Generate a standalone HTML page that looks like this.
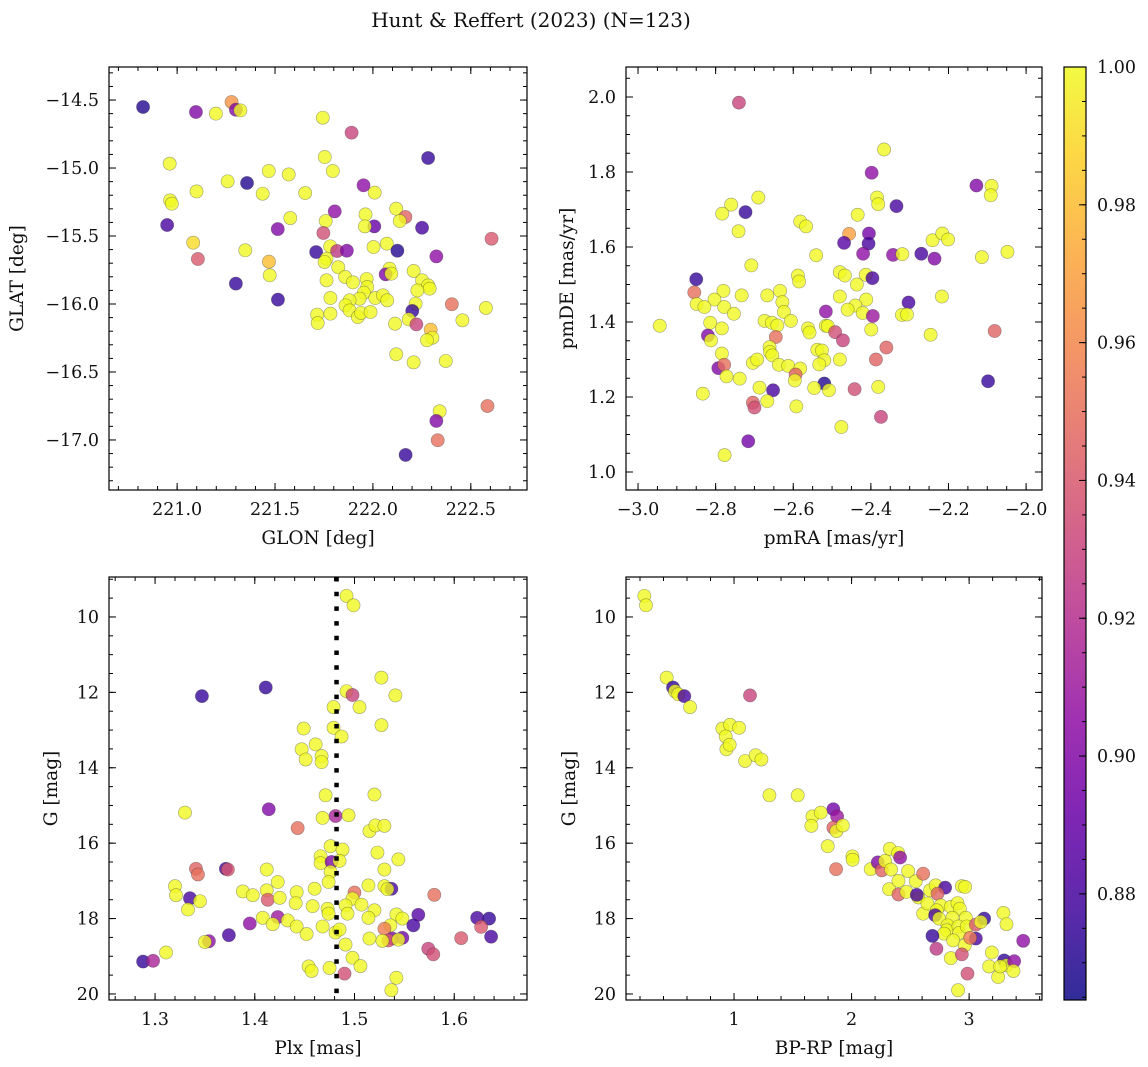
<!DOCTYPE html>
<html><head><meta charset="utf-8">
<style>
html,body{margin:0;padding:0;background:#fff;}
svg{display:block;font-family:"DejaVu Serif","Liberation Serif",serif;}
</style></head>
<body>
<svg id="fig" width="1148" height="1067" viewBox="0 0 1148 1067" xmlns="http://www.w3.org/2000/svg">
<text x="531" y="27" font-size="20" text-anchor="middle" fill="#111">Hunt &amp; Reffert (2023) (N=123)</text>
<defs>
<linearGradient id="plasma" x1="0" y1="1" x2="0" y2="0">
<stop offset="0" stop-color="#0d0887"/><stop offset="0.1" stop-color="#41049d"/><stop offset="0.2" stop-color="#6a00a8"/><stop offset="0.3" stop-color="#8f0da4"/><stop offset="0.4" stop-color="#b12a90"/><stop offset="0.5" stop-color="#cc4778"/><stop offset="0.6" stop-color="#e16462"/><stop offset="0.7" stop-color="#f2844b"/><stop offset="0.8" stop-color="#fca636"/><stop offset="0.9" stop-color="#fcce25"/><stop offset="1" stop-color="#f0f921"/>
</linearGradient>
</defs>
</svg>
<script>
// ---- Panel 1: GLON / GLAT ----
const p1Lon=[220.826,221.096,221.198,221.278,221.300,221.323,221.744,221.891,222.282,220.962,221.468,221.570,221.754,221.795,221.258,221.357,221.099,221.437,221.654,221.952,222.009,220.964,220.973,220.949,221.578,221.805,221.962,222.119,222.166,222.137,221.759,221.514,222.007,221.959,222.251,221.747,222.606,221.082,221.106,221.348,221.710,221.782,221.817,221.867,222.003,222.071,222.125,222.324,221.469,221.763,221.753,221.473,221.823,221.858,221.898,221.763,222.085,222.065,222.094,222.208,222.251,222.282,222.290,222.227,221.300,221.515,221.968,221.971,221.954,221.932,221.881,222.012,222.051,222.073,221.783,221.783,221.860,221.881,221.923,221.940,221.988,221.715,221.718,222.218,222.201,222.183,222.222,222.113,222.403,222.577,222.457,222.295,222.304,222.276,222.119,222.208,222.372,222.341,222.324,222.585,222.331,222.167];
const p1Lat=[-14.551,-14.588,-14.600,-14.515,-14.571,-14.576,-14.630,-14.740,-14.926,-14.968,-15.022,-15.047,-14.919,-15.022,-15.098,-15.110,-15.172,-15.189,-15.184,-15.127,-15.181,-15.238,-15.262,-15.419,-15.368,-15.319,-15.341,-15.299,-15.360,-15.390,-15.390,-15.449,-15.429,-15.429,-15.439,-15.478,-15.520,-15.549,-15.669,-15.605,-15.618,-15.576,-15.610,-15.608,-15.581,-15.556,-15.608,-15.650,-15.689,-15.667,-15.691,-15.789,-15.730,-15.801,-15.841,-15.826,-15.740,-15.782,-15.777,-15.757,-15.826,-15.863,-15.887,-15.900,-15.850,-15.968,-15.816,-15.875,-15.917,-15.961,-15.973,-15.956,-15.936,-15.973,-15.956,-16.071,-16.010,-16.047,-16.096,-16.066,-16.059,-16.078,-16.140,-15.998,-16.051,-16.113,-16.150,-16.145,-16.002,-16.029,-16.120,-16.189,-16.248,-16.267,-16.370,-16.429,-16.419,-16.789,-16.860,-16.750,-17.002,-17.110];
const p1Prob=[.87,.90,1,.965,.90,1,1,.93,.875,1,1,1,1,1,1,.87,1,1,1,.905,1,1,1,.88,1,.905,1,1,.945,1,1,.90,.89,1,.88,.935,.94,.99,.94,1,.875,1,.925,.90,1,1,.87,.905,.98,1,1,1,1,1,1,1,1,.90,1,1,1,1,1,1,.875,.875,1,1,1,1,1,1,1,1,1,1,1,1,1,1,1,1,1,1,.875,1,.93,1,.95,1,1,.98,1,1,1,1,1,1,.90,.95,.95,.875];
// ---- Panel 2: pmRA / pmDE ----
const p2Pmra=[-2.740,-2.366,-2.398,-2.128,-2.089,-2.091,-2.690,-2.760,-2.783,-2.723,-2.741,-2.384,-2.381,-2.334,-2.434,-2.582,-2.567,-2.456,-2.405,-2.469,-2.406,-2.420,-2.343,-2.319,-2.270,-2.236,-2.241,-2.216,-2.201,-2.114,-2.048,-2.541,-2.708,-2.588,-2.585,-2.480,-2.467,-2.413,-2.396,-2.436,-2.850,-2.855,-2.780,-2.733,-2.803,-2.849,-2.829,-2.778,-2.753,-2.667,-2.634,-2.628,-2.624,-2.480,-2.412,-2.303,-2.217,-2.440,-2.460,-2.421,-2.516,-2.395,-2.320,-2.307,-2.944,-2.814,-2.674,-2.655,-2.641,-2.606,-2.562,-2.558,-2.516,-2.511,-2.492,-2.472,-2.399,-2.246,-2.081,-2.820,-2.812,-2.784,-2.645,-2.784,-2.661,-2.660,-2.654,-2.538,-2.526,-2.520,-2.533,-2.480,-2.387,-2.360,-2.704,-2.693,-2.637,-2.613,-2.582,-2.793,-2.778,-2.772,-2.738,-2.594,-2.596,-2.520,-2.652,-2.687,-2.546,-2.508,-2.442,-2.381,-2.098,-2.833,-2.704,-2.700,-2.667,-2.592,-2.374,-2.476,-2.716,-2.777];
const p2Pmde=[1.985,1.860,1.798,1.764,1.763,1.738,1.732,1.713,1.689,1.693,1.642,1.732,1.714,1.709,1.686,1.668,1.655,1.635,1.636,1.611,1.609,1.582,1.579,1.581,1.582,1.569,1.618,1.636,1.620,1.573,1.587,1.578,1.551,1.524,1.508,1.533,1.524,1.526,1.517,1.500,1.514,1.479,1.483,1.471,1.460,1.448,1.440,1.440,1.422,1.471,1.483,1.453,1.427,1.468,1.460,1.452,1.468,1.444,1.433,1.424,1.428,1.416,1.419,1.420,1.390,1.398,1.403,1.398,1.391,1.403,1.383,1.372,1.390,1.389,1.373,1.351,1.380,1.366,1.376,1.364,1.351,1.383,1.360,1.316,1.333,1.320,1.311,1.326,1.324,1.298,1.287,1.300,1.300,1.332,1.291,1.300,1.286,1.283,1.276,1.277,1.286,1.255,1.249,1.260,1.244,1.236,1.218,1.225,1.224,1.218,1.221,1.227,1.242,1.209,1.185,1.172,1.189,1.175,1.147,1.120,1.082,1.045];
const p2Prob=[.93,1,.905,.90,1,1,1,1,1,.875,1,1,1,.88,1,1,1,.97,.895,.885,.88,.905,.905,1,.88,.90,1,1,1,1,1,1,1,1,1,1,1,1,.88,1,.875,.95,1,1,1,1,1,1,1,1,1,1,1,1,1,.88,1,1,1,1,.905,.91,1,1,1,1,1,1,1,1,1,1,1,1,.935,.93,1,1,.945,.90,1,1,.95,1,1,1,1,1,1,1,1,1,.945,.945,1,1,1,1,1,.90,.95,1,1,.945,1,.87,.88,1,1,1,.935,1,.875,1,.945,.935,1,1,.93,1,.895,1];
// ---- Panel 3: Plx / G ----
const p3Plx=[1.492,1.499,1.527,1.541,1.492,1.498,1.505,1.347,1.411,1.479,1.479,1.487,1.527,1.449,1.461,1.447,1.451,1.467,1.467,1.471,1.520,1.330,1.414,1.481,1.494,1.468,1.443,1.515,1.521,1.530,1.476,1.488,1.466,1.466,1.477,1.485,1.476,1.474,1.523,1.544,1.530,1.341,1.343,1.371,1.373,1.412,1.320,1.321,1.335,1.345,1.333,1.388,1.398,1.412,1.413,1.423,1.425,1.442,1.441,1.460,1.458,1.473,1.474,1.514,1.530,1.537,1.533,1.500,1.498,1.507,1.491,1.493,1.520,1.514,1.580,1.542,1.548,1.564,1.559,1.623,1.635,1.627,1.637,1.607,1.574,1.579,1.408,1.395,1.423,1.418,1.433,1.442,1.452,1.468,1.481,1.485,1.536,1.530,1.538,1.534,1.528,1.515,1.548,1.544,1.491,1.374,1.354,1.350,1.311,1.288,1.298,1.498,1.506,1.454,1.457,1.475,1.490,1.542,1.537];
const p3G=[9.44,9.69,11.61,12.08,11.97,12.07,12.39,12.10,11.87,12.39,12.94,13.17,12.87,12.96,13.38,13.51,13.78,13.69,13.85,14.73,14.71,15.19,15.10,15.28,15.26,15.33,15.60,15.68,15.53,15.54,16.08,16.17,16.35,16.53,16.50,16.47,16.76,17.03,16.25,16.43,16.70,16.68,16.83,16.68,16.70,16.70,17.14,17.38,17.46,17.54,17.76,17.28,17.38,17.25,17.50,17.03,17.45,17.30,17.59,17.21,17.67,17.74,17.87,17.12,17.14,17.21,17.22,17.31,17.47,17.63,17.65,17.87,17.78,17.98,17.37,17.89,18.00,17.90,18.18,17.98,18.00,18.22,18.48,18.52,18.80,18.95,17.98,18.13,17.96,18.15,18.05,18.21,18.41,18.21,18.37,18.29,18.18,18.27,18.53,18.58,18.59,18.53,18.51,18.56,18.69,18.44,18.60,18.62,18.90,19.14,19.12,19.04,19.26,19.27,19.39,19.31,19.46,19.57,19.90];
const p3Prob=[1,1,1,1,1,.93,1,.875,.875,1,1,1,1,1,1,1,1,1,1,1,1,1,.90,.915,1,1,.95,1,1,1,1,1,1,1,.90,1,1,1,1,1,1,.945,.95,.88,.94,1,1,1,.88,1,1,1,1,1,.94,1,1,1,1,1,1,1,1,1,1,.88,1,.95,1,1,1,1,1,1,.95,1,1,.885,.88,.88,.875,.94,.88,.94,.93,.935,1,.905,.91,1,1,1,1,1,1,1,1,.955,.90,.94,1,1,.895,1,1,.88,.905,1,1,.875,.915,1,1,1,1,1,.935,1,1];
const plxRef=[1.482];
// ---- Panel 4: BP-RP / G ----
const p4Bprp=[0.237,0.251,0.427,0.481,0.498,0.526,0.577,0.626,1.136,0.901,0.966,1.043,0.929,0.935,0.963,1.094,1.184,1.233,1.301,1.542,1.845,1.877,1.845,1.871,1.925,1.667,1.658,1.738,1.797,2.007,2.009,1.868,2.163,2.223,2.257,2.285,2.325,2.396,2.413,2.336,2.319,2.399,2.399,2.481,2.467,2.546,2.609,2.569,2.555,2.668,2.609,2.716,2.796,2.731,2.645,2.759,2.725,2.711,2.745,2.844,2.901,2.921,2.938,2.966,2.858,2.972,2.816,2.810,2.787,2.909,2.915,2.864,2.963,2.980,3.057,3.128,3.099,3.057,3.009,2.688,2.722,2.844,2.938,2.986,2.906,3.193,3.170,3.247,3.298,3.318,3.383,3.377,3.292,3.318,3.460,3.264];
const p4G=[9.44,9.69,11.61,11.87,11.97,12.05,12.10,12.39,12.08,12.96,12.86,12.94,13.17,13.51,13.39,13.82,13.67,13.78,14.73,14.73,15.10,15.29,15.59,15.68,15.53,15.29,15.54,15.19,16.08,16.35,16.44,16.69,16.69,16.51,16.72,16.47,16.15,16.26,16.38,16.70,17.22,17.00,17.36,16.74,17.29,17.01,16.81,17.44,17.37,17.25,17.87,17.12,17.18,17.34,17.60,17.65,17.78,17.91,18.00,17.69,17.59,17.74,17.14,17.16,17.98,17.98,18.18,18.31,18.40,18.21,18.38,18.58,18.71,18.21,18.16,18.00,18.09,18.53,18.51,18.46,18.80,19.05,18.95,19.46,19.90,18.90,19.27,19.55,19.11,19.24,19.13,19.39,17.85,18.15,18.59,19.27];
const p4Prob=[1,1,1,.875,1,1,.88,1,.93,1,1,1,1,1,1,1,1,1,1,1,.895,.91,.945,1,1,1,1,1,1,1,1,.95,1,.90,.945,1,1,1,.905,1,1,1,.945,1,1,1,.95,1,.88,1,1,1,.88,.945,1,1,1,.88,1,1,1,1,1,1,1,1,1,1,1,1,1,1,1,1,.94,.875,1,.88,.955,.875,.925,1,.935,.935,1,1,1,1,.875,1,.905,1,1,1,.905,1];
// ---- Tick labels ----
const p1XTicks=[221.0,221.5,222.0,222.5], p1XLabels=["221.0","221.5","222.0","222.5"];
const p1YTicks=[-14.5,-15.0,-15.5,-16.0,-16.5,-17.0], p1YLabels=["\u221214.5","\u221215.0","\u221215.5","\u221216.0","\u221216.5","\u221217.0"];
const p2XTicks=[-3.0,-2.8,-2.6,-2.4,-2.2,-2.0], p2XLabels=["\u22123.0","\u22122.8","\u22122.6","\u22122.4","\u22122.2","\u22122.0"];
const p2YTicks=[1.0,1.2,1.4,1.6,1.8,2.0], p2YLabels=["1.0","1.2","1.4","1.6","1.8","2.0"];
const p3XTicks=[1.3,1.4,1.5,1.6], p3XLabels=["1.3","1.4","1.5","1.6"];
const gTicks=[10,12,14,16,18,20], gLabels=["10","12","14","16","18","20"];
const p4XTicks=[1,2,3], p4XLabels=["1","2","3"];
const cbTicks=[0.88,0.90,0.92,0.94,0.96,0.98,1.00], cbLabels=["0.88","0.90","0.92","0.94","0.96","0.98","1.00"];
const vmin=0.8646, vmax=1.0;

const NS="http://www.w3.org/2000/svg";
const svg=document.getElementById('fig');
function mk(tag,attrs,parent){const e=document.createElementNS(NS,tag);for(const k in attrs)e.setAttribute(k,attrs[k]);(parent||svg).appendChild(e);return e;}
const stops=[[13,8,135],[65,4,157],[106,0,168],[143,13,164],[177,42,144],[204,71,120],[225,100,98],[242,132,75],[252,166,54],[252,206,37],[240,249,33]];
function plasma(v){let t=(v-vmin)/(vmax-vmin);t=Math.max(0,Math.min(1,t))*10;const i=Math.min(9,Math.floor(t)),f=t-i;const a=stops[i],b=stops[i+1];return 'rgb('+[0,1,2].map(k=>Math.round(a[k]+(b[k]-a[k])*f)).join(',')+')';}
const TFS=17.5, LFS=18.5;

function panel(c){
  const g=mk('g',{});
  
  
  const sx=v=>c.x0+(v-c.xmin)/(c.xmax-c.xmin)*(c.x1-c.x0);
  const sy=v=>c.y0+(v-c.yTop)/(c.yBot-c.yTop)*(c.y1-c.y0);
  c.sx=sx;c.sy=sy;
  const tg=mk('g',{stroke:'#000','stroke-width':1},g);
  function xt(v,len){const x=sx(v);if(x<c.x0-0.5||x>c.x1+0.5)return;mk('line',{x1:x,x2:x,y1:c.y1,y2:c.y1-len},tg);mk('line',{x1:x,x2:x,y1:c.y0,y2:c.y0+len},tg);}
  function yt(v,len){const y=sy(v);if(y<c.y0-0.5||y>c.y1+0.5)return;mk('line',{x1:c.x0,x2:c.x0+len,y1:y,y2:y},tg);mk('line',{x1:c.x1,x2:c.x1-len,y1:y,y2:y},tg);}
  for(let v=Math.ceil(Math.min(c.xmin,c.xmax)/c.xminor)*c.xminor;v<=Math.max(c.xmin,c.xmax);v+=c.xminor)xt(v,4);
  for(let v=Math.ceil(Math.min(c.yTop,c.yBot)/c.yminor)*c.yminor;v<=Math.max(c.yTop,c.yBot);v+=c.yminor)yt(v,4);
  c.xt.forEach((v,i)=>{xt(v,7);const t=mk('text',{x:sx(v),y:c.y1+25,'font-size':TFS,'text-anchor':'middle',fill:'#111'},g);t.textContent=c.xl[i];
    
    });
  c.yt.forEach((v,i)=>{yt(v,7);const t=mk('text',{x:c.x0-10,y:sy(v)+6,'font-size':TFS,'text-anchor':'end',fill:'#111'},g);t.textContent=c.yl[i];
    
    });
  const xl=mk('text',{x:(c.x0+c.x1)/2,y:c.y1+54,'font-size':LFS,'text-anchor':'middle',fill:'#111'},g);xl.textContent=c.xlabel;
  
  
  const yl=mk('text',{x:0,y:0,'font-size':LFS,'text-anchor':'middle',fill:'#111',transform:'translate('+c.ylx+','+((c.y0+c.y1)/2)+') rotate(-90)'},g);yl.textContent=c.ylabel;
  
  
  const pg=mk('g',{},g);
  const clip='clip-'+c.name;const cp=mk('clipPath',{id:clip},g);mk('rect',{x:c.x0,y:c.y0,width:c.x1-c.x0,height:c.y1-c.y0},cp);
  pg.setAttribute('clip-path','url(#'+clip+')');
  c.xs.forEach((xv,i)=>{
    const pt=mk('circle',{cx:sx(xv),cy:sy(c.ys[i]),r:6.6,fill:plasma(c.ps[i]),'fill-opacity':0.8,stroke:'#333','stroke-opacity':0.45,'stroke-width':0.6},pg);
    
    
  });
  if(c.after)c.after(c,pg);
  const fr=mk('rect',{x:c.x0,y:c.y0,width:c.x1-c.x0,height:c.y1-c.y0,fill:'none',stroke:'#000','stroke-width':1.2},g);
  
  
}

panel({name:'panel-glon-glat',x0:109,x1:527,y0:67,y1:490,xmin:220.652,xmax:222.787,yTop:-14.257,yBot:-17.368,xminor:0.1,yminor:0.1,
  xt:p1XTicks,xl:p1XLabels,yt:p1YTicks,yl:p1YLabels,xlabel:'GLON [deg]',ylabel:'GLAT [deg]',ylx:23,xs:p1Lon,ys:p1Lat,ps:p1Prob});
panel({name:'panel-pm',x0:626,x1:1042,y0:67,y1:490,xmin:-3.031,xmax:-1.959,yTop:2.08,yBot:0.952,xminor:0.05,yminor:0.05,
  xt:p2XTicks,xl:p2XLabels,yt:p2YTicks,yl:p2YLabels,xlabel:'pmRA [mas/yr]',ylabel:'pmDE [mas/yr]',ylx:573,xs:p2Pmra,ys:p2Pmde,ps:p2Prob});
panel({name:'panel-plx-g',x0:109,x1:527,y0:577,y1:1000,xmin:1.2538,xmax:1.673,yTop:8.94,yBot:20.16,xminor:0.02,yminor:0.5,
  xt:p3XTicks,xl:p3XLabels,yt:gTicks,yl:gLabels,xlabel:'Plx [mas]',ylabel:'G [mag]',ylx:57,xs:p3Plx,ys:p3G,ps:p3Prob,
  after:(c,pg)=>{const x=c.sx(plxRef[0]);const l=mk('line',{x1:x,x2:x,y1:c.y0,y2:c.y1,stroke:'#000','stroke-width':4.5,'stroke-dasharray':'4.5 10.2'},pg);
    
    }});
panel({name:'panel-cmd',x0:626,x1:1042,y0:577,y1:1000,xmin:0.081,xmax:3.62,yTop:8.94,yBot:20.16,xminor:0.2,yminor:0.5,
  xt:p4XTicks,xl:p4XLabels,yt:gTicks,yl:gLabels,xlabel:'BP-RP [mag]',ylabel:'G [mag]',ylx:575,xs:p4Bprp,ys:p4G,ps:p4Prob});

const cb=mk('g',{});


const cy0=67,cy1=1000,cx0=1064,cx1=1086;
const cs=v=>cy1-(v-vmin)/(vmax-vmin)*(cy1-cy0);
mk('rect',{x:cx0,y:cy0,width:cx1-cx0,height:cy1-cy0,fill:'url(#plasma)','fill-opacity':0.85},cb);
for(let v=0.865;v<=1.0001;v+=0.005){mk('line',{x1:cx1,x2:cx1-4,y1:cs(v),y2:cs(v),stroke:'#000','stroke-width':1},cb);}
cbTicks.forEach((v,i)=>{mk('line',{x1:cx1,x2:cx1-7,y1:cs(v),y2:cs(v),stroke:'#000','stroke-width':1},cb);
  const t=mk('text',{x:cx1+11,y:cs(v)+6,'font-size':TFS,fill:'#111'},cb);t.textContent=cbLabels[i];
  
  });
mk('rect',{x:cx0,y:cy0,width:cx1-cx0,height:cy1-cy0,fill:'none',stroke:'#000','stroke-width':1.2},cb);
</script>
</body></html>
